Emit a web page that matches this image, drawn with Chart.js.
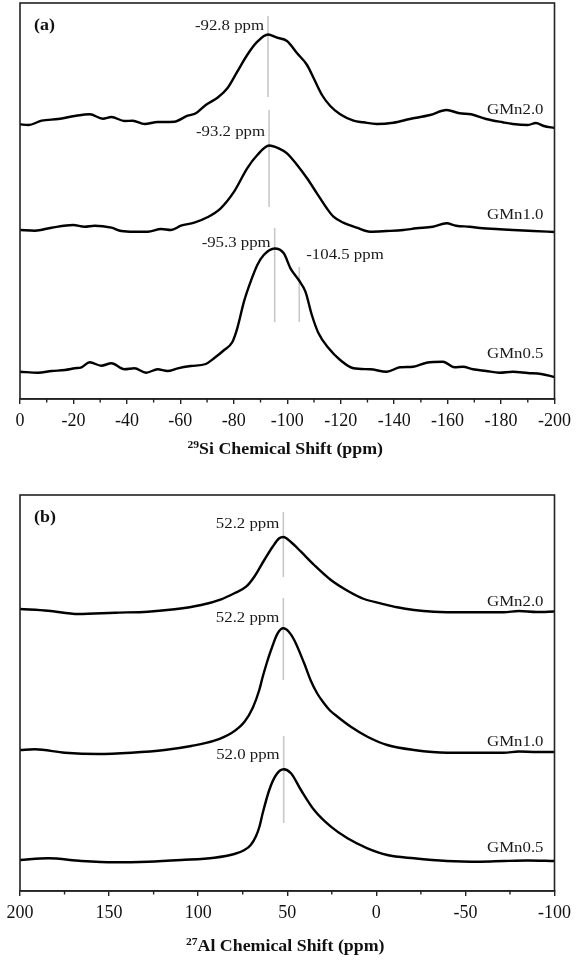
<!DOCTYPE html>
<html><head><meta charset="utf-8">
<script src="https://cdn.jsdelivr.net/npm/chart.js@4.4.0/dist/chart.umd.min.js"></script>
<style>
html,body{margin:0;padding:0;background:#fff;}
#wrap{position:relative;width:577px;height:960px;overflow:hidden;}
.pane{position:absolute;left:0;width:577px;}
canvas{display:block;}
</style></head><body>
<div id="wrap">
<div class="pane" style="top:0;height:470px"><canvas id="ca" width="577" height="470"></canvas></div>
<div class="pane" style="top:470px;height:490px"><canvas id="cb" width="577" height="490"></canvas></div>
</div>
<script>
// ---------- Data (chemical shift ppm, stacked intensity a.u.) ----------
const siSeriesNames = ["GMn2.0", "GMn1.0", "GMn0.5"];
const alSeriesNames = ["GMn2.0", "GMn1.0", "GMn0.5"];

const siGMn20 = [[0,274.7],[-3.1,274],[-8.1,278.3],[-14.3,280],[-20.5,283],[-26.1,284.7],[-31,280.3],[-34.2,282],[-39.1,278],[-42.2,278.3],[-46.6,275],[-51.5,277],[-57.7,277.3],[-62.7,283.3],[-65.8,285.7],[-69.5,294],[-73.9,301.3],[-77.6,310.7],[-81.3,327.3],[-85,344],[-88.8,357.3],[-92.8,364.5],[-96.2,361.3],[-99.9,358],[-103.7,345.7],[-107.4,334],[-109.9,320.7],[-113,304],[-116.1,293],[-119.8,284.7],[-124.8,278.3],[-128.5,276.7],[-133.4,275],[-139.7,276.3],[-145.9,280],[-153.4,284],[-159.6,289],[-164.5,285.7],[-168.8,284.7],[-174.4,280],[-180.6,276.7],[-184.4,275],[-190,274],[-193,276],[-196,273],[-200,271]];
const siGMn10 = [[0,169],[-5.6,168.3],[-11.8,171.3],[-19.9,174],[-24.2,172.3],[-27.9,173.3],[-34.2,171.3],[-37.9,168],[-42.8,167.3],[-47.8,167.3],[-52.8,170],[-56.5,169],[-60.2,173.3],[-65.2,176.3],[-70.1,181.7],[-75.1,190.7],[-80.1,207.3],[-85,230.7],[-88.8,244],[-93.2,253.5],[-96.8,250.7],[-99.9,245.7],[-103.7,234],[-107.4,220.7],[-111.1,205.7],[-114.8,190.7],[-117.3,182.3],[-121,176.3],[-126,171.3],[-131,167.3],[-137.2,168],[-143.4,169],[-148.3,170.7],[-154.5,172.3],[-159.6,175.7],[-163.2,173.3],[-168.2,172.3],[-173.2,170.7],[-178.1,170],[-184.4,169],[-192,168],[-200,167]];
const siGMn05 = [[0,27.3],[-6.8,26.3],[-11.8,28],[-16.8,29],[-20.5,30.7],[-23,31.7],[-26.1,36.7],[-30.4,33.3],[-34.2,35.7],[-39.1,29.7],[-42.8,30.7],[-47.2,26.3],[-51.5,29.7],[-55.2,28],[-59,30.7],[-63.9,33],[-69.5,35],[-72.6,40.7],[-76.4,49],[-79.4,56.7],[-81.3,70.7],[-83.8,97.3],[-86.3,117.3],[-88.8,134],[-91.2,144],[-95.3,150.5],[-98.7,145.7],[-101.2,130.7],[-104.3,119],[-106.8,107.3],[-109.2,84],[-111.7,65.7],[-115.5,50.7],[-119.8,39],[-124.8,30.7],[-131,29.7],[-137.2,27.3],[-142.2,31.7],[-147.1,32.3],[-152.1,36.3],[-158.3,37.3],[-162.6,31.7],[-165.7,32.3],[-169.5,29.7],[-174.4,28],[-179.4,26.3],[-184.4,27.3],[-190,26],[-195,25],[-200,22]];

const alGMn20 = [[200,282],[184.2,280.3],[167.4,277],[146.8,278.3],[128.2,279.3],[113.2,281.7],[98.3,286],[87.1,291.7],[79.7,297.7],[73.1,304.3],[68.5,314.3],[62.9,331],[58.2,344.3],[54.5,352.7],[52.2,354],[48.1,349.3],[42.3,339.3],[34.9,326],[25.5,311],[16.2,300.3],[6.9,292],[-2.4,287.7],[-11.7,283.7],[-21.1,281],[-32.3,279.3],[-49.1,278.7],[-71.5,278.7],[-80,280],[-90,279],[-100,279.5]];
const alGMn10 = [[200,141],[191.6,141.7],[174.8,138.3],[156.2,137],[137.5,138.3],[118.8,141],[103.9,145],[90.9,150.3],[81.5,157.7],[74,169.3],[69.4,183],[65.7,201],[63.8,214],[61.5,228],[59.1,241],[55.4,257.7],[52.2,262.7],[49,259],[46.1,251],[40.5,227.7],[36.7,210],[33,197],[29.5,188],[26,180.5],[21.8,174.3],[14.3,164.3],[5,154.3],[-6.1,146],[-21.1,141],[-39.7,138.3],[-58.4,138.3],[-71.5,138.3],[-80,139.5],[-90,139],[-100,139]];
const alGMn05 = [[200,31],[184.2,32.7],[165.5,30],[146.8,28.7],[128.2,29.3],[109.5,31],[90.9,33.3],[79.7,37],[74,41],[70.5,46],[67.5,55],[65.5,65],[63.8,77.7],[60.1,101],[56.3,116],[52,121.7],[47.9,117.7],[42.3,101],[34.9,81],[25.5,64.3],[16.2,52.7],[5,42.7],[-6.1,36],[-21.1,32.7],[-39.7,30],[-58.4,29.3],[-71.5,30],[-85,30.5],[-100,30]];

// peak markers: [ppm, from, to, label, labelY, side]
const siMarkers = [[-92.8,302,383,"-92.8 ppm",373,"left"],[-93.2,192,289,"-93.2 ppm",267,"left"],[-95.3,77,171,"-95.3 ppm",156,"left"],[-104.5,77,132,"-104.5 ppm",144,"right"]];
const alMarkers = [[52.2,314,379,"52.2 ppm",367,"left"],[52.2,211,293,"52.2 ppm",273,"left"],[52.0,68,155,"52.0 ppm",136,"left"]];
// series name label heights
const siNameY = [289, 184, 45];
const alNameY = [289, 149, 43];

const siTicks = {min:-200, max:0, step:20, minor:10};
const alTicks = {min:-100, max:200, step:50, minor:25};

// ---------- helpers ----------
const SERIF = '"Liberation Serif","Times New Roman",serif';
const SX = 1.12;
function sText(ctx, t, x, y, font, align, color, sx){
  ctx.save(); ctx.font = font; ctx.fillStyle = color||'#1a1a1a';
  ctx.textBaseline = 'middle'; ctx.textAlign = align;
  ctx.translate(x, y); ctx.scale(sx || SX, 1); ctx.fillText(t, 0, 0); ctx.restore();
}

function makePlugin(cfg){
  return {
    id: 'deco',
    beforeDatasetsDraw(chart){
      const {ctx} = chart; const xs = chart.scales.x, ys = chart.scales.y;
      ctx.save(); ctx.strokeStyle = '#c8c8c8'; ctx.lineWidth = 1.6;
      cfg.markers.forEach(m => {
        const x = xs.getPixelForValue(m[0]);
        ctx.beginPath(); ctx.moveTo(x, ys.getPixelForValue(m[1])); ctx.lineTo(x, ys.getPixelForValue(m[2])); ctx.stroke();
      });
      ctx.restore();
    },
    afterDraw(chart){
      const {ctx, chartArea: a} = chart; const xs = chart.scales.x, ys = chart.scales.y;
      ctx.save(); ctx.strokeStyle = '#222'; ctx.lineWidth = 1.6;
      ctx.strokeRect(a.left, a.top, a.right - a.left, a.bottom - a.top);
      ctx.lineWidth = 1.4;
      for (let v = cfg.ticks.min; v <= cfg.ticks.max; v += cfg.ticks.minor){
        if (Math.abs(v % cfg.ticks.step) < 1e-9) continue;
        const x = xs.getPixelForValue(v);
        ctx.beginPath(); ctx.moveTo(x, a.bottom); ctx.lineTo(x, a.bottom + 3.5); ctx.stroke();
      }
      ctx.restore();
      const f = '15px ' + SERIF;
      cfg.markers.forEach(m => {
        const x = xs.getPixelForValue(m[0]); const y = ys.getPixelForValue(m[4]);
        if (m[5] === 'left') sText(ctx, m[3], x - 4, y, f, 'right');
        else sText(ctx, m[3], x + 7, y, f, 'left');
      });
      cfg.names.forEach((n, i) => sText(ctx, n, a.right - 11, ys.getPixelForValue(cfg.nameY[i]), f, 'right'));
      sText(ctx, cfg.letter, a.left + 14, a.top + 23, 'bold 16px ' + SERIF, 'left', '#111');
      ctx.save();
      const tsx = 1.05;
      const fs = 'bold 11px ' + SERIF, fm = 'bold 17px ' + SERIF;
      ctx.font = fs; const w1 = ctx.measureText(cfg.sup).width;
      ctx.font = fm; const w2 = ctx.measureText(cfg.title).width;
      const tot = (w1 + w2) * tsx; const cx = (a.left + a.right) / 2 - 2; const x0 = cx - tot / 2;
      ctx.restore();
      sText(ctx, cfg.sup, x0, cfg.titleY - 5, fs, 'left', '#111', tsx);
      sText(ctx, cfg.title, x0 + w1 * tsx, cfg.titleY, fm, 'left', '#111', tsx);
    }
  };
}

function makeChart(id, series, names, t, pad, xh, plugCfg){
  return new Chart(document.getElementById(id), {
    type: 'line',
    data: { datasets: series.map((s, i) => ({
      label: names[i],
      data: s.map(p => ({x: p[0], y: p[1]})),
      borderColor: '#000', borderWidth: 2.4, pointRadius: 0,
      cubicInterpolationMode: 'monotone', fill: false
    })) },
    options: {
      responsive: false, animation: false, devicePixelRatio: 1,
      layout: { padding: pad },
      plugins: { legend: {display: false}, tooltip: {enabled: false} },
      scales: {
        x: {
          type: 'linear', min: t.min, max: t.max, reverse: true,
          afterFit: s => { s.height = xh; },
          ticks: { stepSize: t.step, autoSkip: false, maxRotation: 0, color: '#111', padding: 6,
                   font: { family: SERIF, size: 18 } },
          grid: { drawOnChartArea: false, drawTicks: true, tickLength: 5, color: '#222', lineWidth: 1.4 },
          border: { display: true, color: '#222', width: 1.6 }
        },
        y: { display: false, min: 0, max: 396 }
      }
    },
    plugins: [makePlugin(plugCfg)]
  });
}

makeChart('ca', [siGMn20, siGMn10, siGMn05], siSeriesNames, siTicks,
  {left: 20, right: 20, top: 3, bottom: 0}, 71,
  {markers: siMarkers, names: siSeriesNames, nameY: siNameY, ticks: siTicks, letter: '(a)',
   sup: '29', title: 'Si Chemical Shift (ppm)', titleY: 450});
makeChart('cb', [alGMn20, alGMn10, alGMn05], alSeriesNames, alTicks,
  {left: 20, right: 21, top: 25, bottom: 0}, 69,
  {markers: alMarkers, names: alSeriesNames, nameY: alNameY, ticks: alTicks, letter: '(b)',
   sup: '27', title: 'Al Chemical Shift (ppm)', titleY: 477});
</script>
</body></html>
